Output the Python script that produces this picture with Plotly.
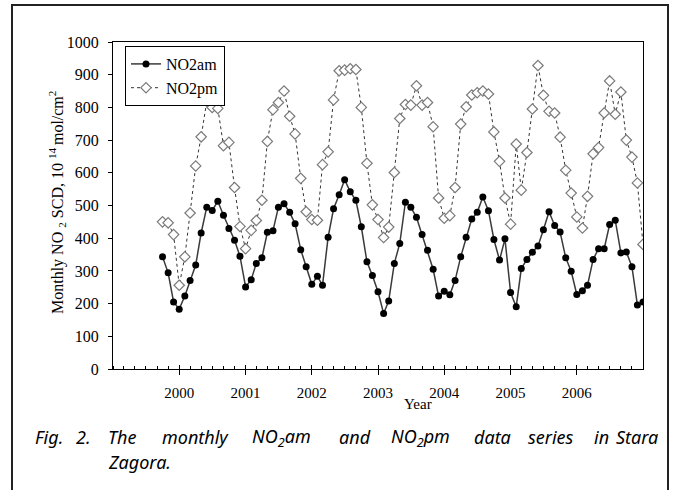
import plotly.graph_objects as go
import pandas as pd

# ---------------- data ----------------
start_month = "1999-10-01"
n_months = 88
no2_am = [343, 294, 205, 183, 223, 271, 318, 416, 495, 485, 513, 470, 430, 394, 345,
          251, 273, 323, 340, 418, 423, 495, 505, 479, 444, 365, 313,
          259, 284, 256, 403, 490, 533, 579, 542, 516, 435, 328, 286,
          236, 170, 208, 323, 384, 510, 495, 464, 411, 363, 305, 223,
          238, 227, 271, 343, 403, 459, 479, 526, 484, 396, 333, 398,
          234, 190, 307, 335, 357, 376, 426, 481, 439, 419, 340, 299,
          228, 239, 256, 335, 368, 368, 442, 455, 355, 358, 313, 196,
          205]
no2_pm = [450, 447, 411, 256, 343, 477, 621, 710, 819, 800, 797, 683, 693, 555, 436,
          368, 424, 454, 516, 696, 793, 815, 850, 773, 719, 583, 481,
          457, 455, 625, 664, 823, 912, 914, 918, 916, 800, 629, 502,
          457, 402, 434, 601, 766, 809, 807, 866, 807, 815, 741, 523,
          461, 469, 555, 749, 802, 838, 845, 850, 841, 725, 635, 523,
          443, 688, 547, 662, 795, 928, 837, 788, 783, 709, 608, 538,
          465, 431, 528, 658, 677, 783, 881, 779, 847, 700, 648, 569,
          381]
year_labels = ["2000", "2001", "2002", "2003", "2004", "2005", "2006"]
series_names = ["NO2am", "NO2pm"]
caption_line1 = ["Fig.", "2.", "The", "monthly", "NO<sub>2</sub>am", "and",
                 "NO<sub>2</sub>pm", "data", "series", "in", "Stara"]
caption_line2 = "Zagora."
y_title = "Monthly NO <sub>2</sub> SCD, 10 <sup>14 </sup>mol/cm<sup>2</sup>"

months = pd.date_range(start_month, periods=n_months, freq="MS")
year_ticks = [pd.Timestamp(f"{y}-01-01") for y in year_labels]

# ---------------- layout geometry (pixels) ----------------
W, H = 675, 490
L, R, T, B = 113, 643, 42, 369
pw, ph = R - L, B - T


def px_x(x):
    return (x - L) / pw


def px_y(y):
    return (B - y) / ph


serif = "Liberation Serif"
sans = "Noto Sans"

fig = go.Figure()
fig.add_trace(go.Scatter(
    x=months, y=no2_am, name=series_names[0], mode="lines+markers",
    line=dict(color="#3a3a3a", width=1.5),
    marker=dict(symbol="circle", size=7, color="black"),
))
fig.add_trace(go.Scatter(
    x=months, y=no2_pm, name=series_names[1], mode="lines+markers",
    line=dict(color="#333333", width=1, dash="dot"),
    marker=dict(symbol="diamond", size=8, color="white",
                line=dict(color="#7a7a7a", width=1.2)),
))
# helper trace for the overlay axis carrying the inner halves of year ticks
fig.add_trace(go.Scatter(x=year_ticks, y=[None] * len(year_ticks), xaxis="x2",
                         showlegend=False, hoverinfo="skip", mode="markers"))

x_range = [pd.Timestamp("1999-01-01"), pd.Timestamp("2007-01-01")]

fig.update_layout(
    width=W, height=H,
    margin=dict(l=L, r=W - R, t=T, b=H - B),
    paper_bgcolor="white", plot_bgcolor="white",
    showlegend=True,
    legend=dict(x=px_x(125), y=px_y(46), xanchor="left", yanchor="top",
                bgcolor="white", bordercolor="black", borderwidth=1,
                font=dict(family=serif, size=16, color="black"),
                tracegroupgap=0, itemwidth=30),
    xaxis=dict(type="date", range=x_range, tickvals=year_ticks, ticktext=year_labels,
               ticks="outside", ticklen=5, tickwidth=1, tickcolor="black",
               showline=True, linecolor="black", linewidth=1, mirror=True,
               showgrid=False, zeroline=False, ticklabelstandoff=5,
               tickfont=dict(family=serif, size=15, color="black"),
               minor=dict(dtick="M2", tick0="1999-01-01", ticks="inside",
                          ticklen=3, tickcolor="black", showgrid=False)),
    xaxis2=dict(type="date", overlaying="x", matches="x", range=x_range,
                tickvals=year_ticks, ticks="inside", ticklen=4, tickcolor="black",
                showticklabels=False, showgrid=False, showline=False, zeroline=False),
    yaxis=dict(range=[0, 1000], dtick=100, ticks="outside", ticklen=4,
               tickcolor="black", showline=True, linecolor="black", linewidth=1,
               mirror=True, showgrid=False, zeroline=False, ticklabelstandoff=6,
               tickfont=dict(family=serif, size=16, color="black")),
)

# axis titles
fig.add_annotation(text="Year", xref="paper", yref="paper", x=px_x(418), y=px_y(414),
                   showarrow=False, font=dict(family=serif, size=15, color="black"))
fig.add_annotation(text=y_title, xref="paper", yref="paper", x=px_x(44), y=px_y(203),
                   textangle=-90, showarrow=False,
                   font=dict(family=serif, size=16, color="black"))

# caption (justified first line)
word_left = [33, 74, 106, 160, 250, 337, 389, 472, 526, 592, 614]
for word, xl in zip(caption_line1, word_left):
    fig.add_annotation(text=f"<i>{word}</i>", xref="paper", yref="paper",
                       x=px_x(xl), y=px_y(437),
                       xanchor="left", yanchor="middle", showarrow=False,
                       font=dict(family=sans, size=18, color="black"))
fig.add_annotation(text=f"<i>{caption_line2}</i>", xref="paper", yref="paper",
                   x=px_x(106), y=px_y(462),
                   xanchor="left", yanchor="middle", showarrow=False,
                   font=dict(family=sans, size=18, color="black"))

# outer frame
fig.add_shape(type="rect", xref="paper", yref="paper",
              x0=px_x(12), x1=px_x(668), y0=px_y(560), y1=px_y(5),
              line=dict(color="#222222", width=2), fillcolor="rgba(0,0,0,0)", layer="below")

fig.write_html("out.html", config={"displayModeBar": False},
               post_script="document.body.style.margin='0px';")
